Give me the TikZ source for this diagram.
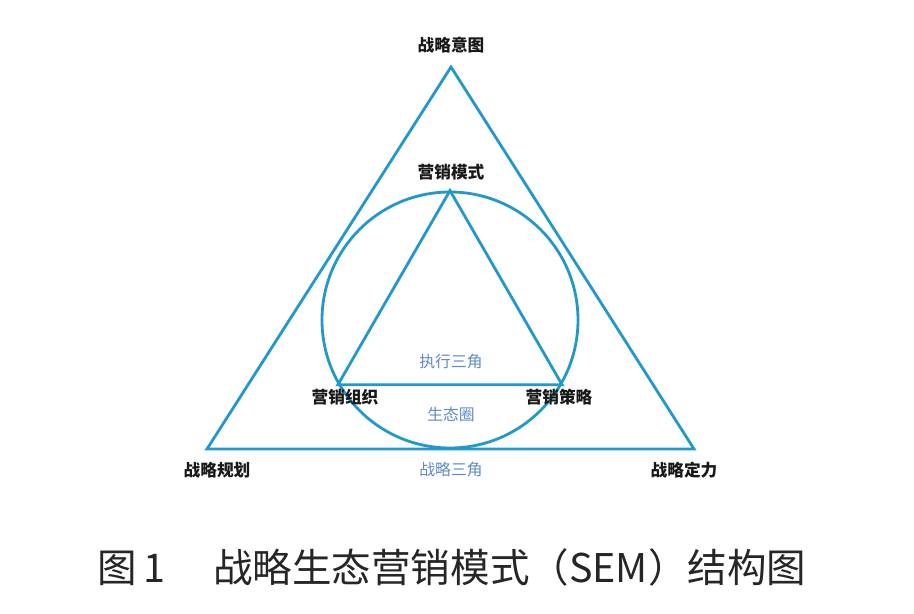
\documentclass[tikz,border=0pt]{standalone}
\usepackage{fontspec}
\usepackage{tikz}
\usetikzlibrary{positioning}
\newfontfamily\cjk{Noto Sans CJK SC}
\definecolor{lineblue}{RGB}{35,152,205}
\definecolor{softblue}{RGB}{95,140,200}
\tikzstyle{edge}=[draw=lineblue,line width=1.6pt,line join=miter]
\tikzstyle{tag}=[font=\cjk\bfseries\fontsize{9.5}{11}\selectfont,text=black!90,inner sep=1pt]
\tikzstyle{note}=[font=\cjk\fontsize{9}{11}\selectfont,text=softblue,inner sep=1pt]

\begin{document}
\begin{tikzpicture}[x=0.02cm,y=-0.02cm]
    \useasboundingbox (0,0) rectangle (914,614);
    \fill[white] (0,0) rectangle (914,614);

    % outer triangle
    \coordinate (top) at (451,67);
    \coordinate (left) at (207,449);
    \coordinate (right) at (694,449);
    \draw[edge] (top) -- (left) -- (right) -- cycle;

    % circle and inner triangle
    \node[circle, draw=lineblue, line width=1.6pt, minimum size=256*0.02cm, inner sep=0] (eco) at (450,320) {};
    \coordinate (itop) at (eco.90);
    \coordinate (ileft) at (eco.210);
    \coordinate (iright) at (eco.330);
    \draw[edge] (itop) -- (ileft) -- (iright) -- cycle;

    \node[tag] (intent) at (451,45) {战略意图};
    \node[tag] (model) at (451,172) {营销模式};
    \node[tag] (org) at (345,397) {营销组织};
    \node[tag] (strat) at (559,397) {营销策略};
    \node[tag] (plan) at (217,470) {战略规划};
    \node[tag] (force) at (684,470) {战略定力};

    \node[note] (exec) at (451,362) {执行三角};
    \node[note] (circ) at (451,414) {生态圈};
    \node[note] (tri) at (451,470) {战略三角};

    \node[font=\cjk\fontsize{22.5}{26}\selectfont, text=black!85] (caption) at (452,567) {图\,1\hspace{1.2em}战略生态营销模式（SEM）结构图};
  \end{tikzpicture}
\end{document}
